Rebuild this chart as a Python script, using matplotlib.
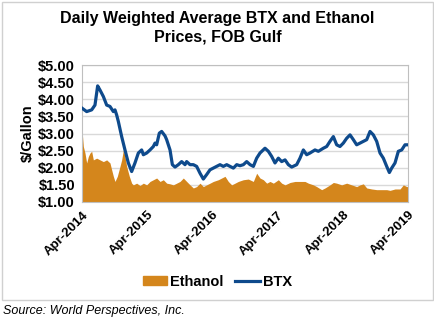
import numpy as np
import matplotlib
matplotlib.use("Agg")
import matplotlib.pyplot as plt
from matplotlib.patches import Rectangle, Patch
from matplotlib.lines import Line2D

plt.rcParams['font.family'] = ['Liberation Sans', 'DejaVu Sans']

# months since Apr-2014
btx_months = [0, 0.86, 1.78, 2.39, 2.88, 3.31, 3.93, 4.54, 5.15, 5.77, 6.07, 6.38, 6.69,
              7.30, 7.91, 8.53, 9.14, 9.75, 10.37, 10.98, 11.29, 11.90, 12.52, 13.13,
              13.44, 13.74, 14.23, 14.66, 15.28, 15.58, 16.20, 16.63, 17.12, 17.73,
              18.34, 18.96, 19.26, 19.88, 20.49, 21.10, 21.72, 22.33, 22.94, 23.56,
              24.17, 24.78, 25.40, 26.01, 26.63, 27.24, 27.86, 28.47, 29.08, 29.70,
              30.31, 30.93, 31.54, 32.15, 32.76, 33.68, 34.30, 34.91, 35.52, 36.14,
              36.75, 37.37, 37.98, 38.59, 39.51, 40.12, 40.74, 41.35, 41.96, 42.88,
              43.50, 44.42, 45.03, 45.64, 46.26, 46.87, 47.48, 48.10, 48.71, 49.33,
              49.94, 50.55, 51.17, 51.78, 52.40, 53.01, 53.62, 54.24, 54.85, 55.46,
              56.08, 56.57, 57.00, 57.61, 58.22, 58.84, 59.45, 60.07]
btx_price = [3.74, 3.64, 3.69, 3.83, 4.39, 4.27, 4.08, 3.83, 3.79, 3.64, 3.69, 3.54, 3.35,
             2.91, 2.52, 2.14, 1.89, 2.14, 2.43, 2.52, 2.38, 2.43, 2.52, 2.62,
             2.72, 2.67, 3.01, 3.06, 2.93, 2.82, 2.52, 2.09, 2.02, 2.09,
             2.18, 2.09, 2.18, 2.09, 2.09, 2.04, 1.84, 1.67, 1.80, 1.94,
             1.99, 2.04, 2.09, 2.04, 2.09, 2.04, 1.99, 2.09, 2.06, 2.09,
             2.18, 2.09, 2.04, 2.28, 2.43, 2.57, 2.48, 2.33, 2.14, 2.28,
             2.18, 2.23, 2.09, 2.02, 2.09, 2.28, 2.52, 2.38, 2.43, 2.52,
             2.48, 2.57, 2.62, 2.77, 2.91, 2.67, 2.62, 2.72, 2.86, 2.96,
             2.82, 2.67, 2.72, 2.77, 2.82, 3.06, 2.96, 2.77, 2.43, 2.28,
             2.04, 1.86, 1.99, 2.14, 2.48, 2.52, 2.67, 2.67]

eth_months = [0, 0.25, 0.55, 0.86, 1.17, 1.47, 1.78, 2.09, 2.70, 3.31, 3.93, 4.54, 5.15,
              5.46, 5.77, 6.07, 6.50, 6.99, 7.30, 7.61, 7.91, 8.22, 8.71, 9.14, 9.45,
              10.06, 10.67, 11.29, 11.90, 12.52, 13.13, 13.74, 14.36, 14.97, 15.58,
              16.20, 16.81, 17.42, 18.04, 18.65, 19.26, 19.88, 20.49, 21.10, 21.72,
              22.33, 22.94, 23.56, 24.17, 25.09, 25.71, 26.32, 26.93, 27.55, 28.16,
              28.77, 29.69, 30.61, 31.53, 32.15, 32.76, 33.38, 33.99, 34.60, 35.22,
              36.14, 36.75, 37.37, 38.29, 39.21, 40.12, 41.04, 41.66, 42.58, 43.19,
              44.11, 44.73, 45.64, 46.26, 46.87, 47.79, 48.71, 49.63, 50.55, 51.17,
              51.78, 52.40, 53.32, 54.24, 55.16, 56.08, 56.69, 57.61, 58.53, 59.14,
              59.76, 60.07]
eth_price = [3.11, 2.62, 2.43, 2.14, 2.33, 2.43, 2.48, 2.23, 2.28, 2.23, 2.18, 2.23, 2.14,
             1.94, 1.75, 1.60, 1.75, 2.04, 2.23, 2.52, 2.33, 2.04, 1.75, 1.55, 1.50,
             1.55, 1.48, 1.55, 1.50, 1.60, 1.65, 1.70, 1.60, 1.65, 1.55,
             1.53, 1.50, 1.55, 1.60, 1.70, 1.60, 1.50, 1.41, 1.45, 1.55,
             1.45, 1.50, 1.55, 1.60, 1.65, 1.70, 1.75, 1.60, 1.50, 1.55,
             1.60, 1.65, 1.67, 1.60, 1.84, 1.70, 1.65, 1.55, 1.60, 1.55,
             1.65, 1.55, 1.50, 1.57, 1.60, 1.60, 1.60, 1.55, 1.50, 1.45,
             1.36, 1.41, 1.50, 1.57, 1.55, 1.50, 1.55, 1.50, 1.45, 1.50,
             1.53, 1.41, 1.38, 1.36, 1.36, 1.36, 1.34, 1.38, 1.38, 1.50,
             1.45, 1.45]

tick_months = [0, 12, 24, 36, 48, 60]
tick_labels = ['Apr-2014', 'Apr-2015', 'Apr-2016', 'Apr-2017', 'Apr-2018', 'Apr-2019']
y_ticks = [1.0, 1.5, 2.0, 2.5, 3.0, 3.5, 4.0, 4.5, 5.0]

orange = '#D4861C'
blue = '#0E4A8C'

fig = plt.figure(figsize=(4.35, 3.21), dpi=100)
fig.patches.append(Rectangle((2/435, 1 - 300/321), 431/435, 298/321, transform=fig.transFigure,
                             fill=False, edgecolor='#d0d0d0', linewidth=1))

ax = fig.add_axes([82/435, 1 - 202/321, 326/435, 137/321])
ax.fill_between(eth_months, 1.0, eth_price, color=orange, linewidth=0, zorder=2)
ax.plot(btx_months, btx_price, color=blue, linewidth=2.3, zorder=3)

ax.set_xlim(0, 60)
ax.set_ylim(1, 5)
ax.set_yticks(y_ticks)
ax.set_yticklabels(['${:.2f}'.format(v) for v in y_ticks], fontsize=10.5, fontweight='bold')
ax.set_xticks(tick_months)
ax.set_xticklabels(tick_labels, rotation=45, ha='right', rotation_mode='anchor',
                   fontsize=9.5, fontweight='bold')
ax.tick_params(length=0, pad=5)
ax.grid(axis='y', color='#d9d9d9', linewidth=1, zorder=0)
ax.set_axisbelow(True)
for s in ax.spines.values():
    s.set_color('#bfbfbf')
ax.set_ylabel('$/Gallon', fontsize=10.5, fontweight='bold', labelpad=2)

fig.text(0.5, 1 - 18/321, 'Daily Weighted Average BTX and Ethanol', ha='center', va='center',
         fontsize=11.5, fontweight='bold')
fig.text(0.5, 1 - 37/321, 'Prices, FOB Gulf', ha='center', va='center',
         fontsize=11.5, fontweight='bold')

handles = [Patch(color=orange, label='Ethanol'), Line2D([0], [0], color=blue, linewidth=2.3, label='BTX')]
fig.legend(handles=handles, loc='center', bbox_to_anchor=(0.5, 1 - 282/321), ncol=2, frameon=False,
           prop={'weight': 'bold', 'size': 10.5}, handlelength=1.7, handleheight=0.55,
           columnspacing=0.8, handletextpad=0.2)

fig.text(3/435, 1 - 311/321, 'Source: World Perspectives, Inc.', ha='left', va='center',
         fontsize=9, fontstyle='italic')

fig.savefig('out.png', dpi=100)
